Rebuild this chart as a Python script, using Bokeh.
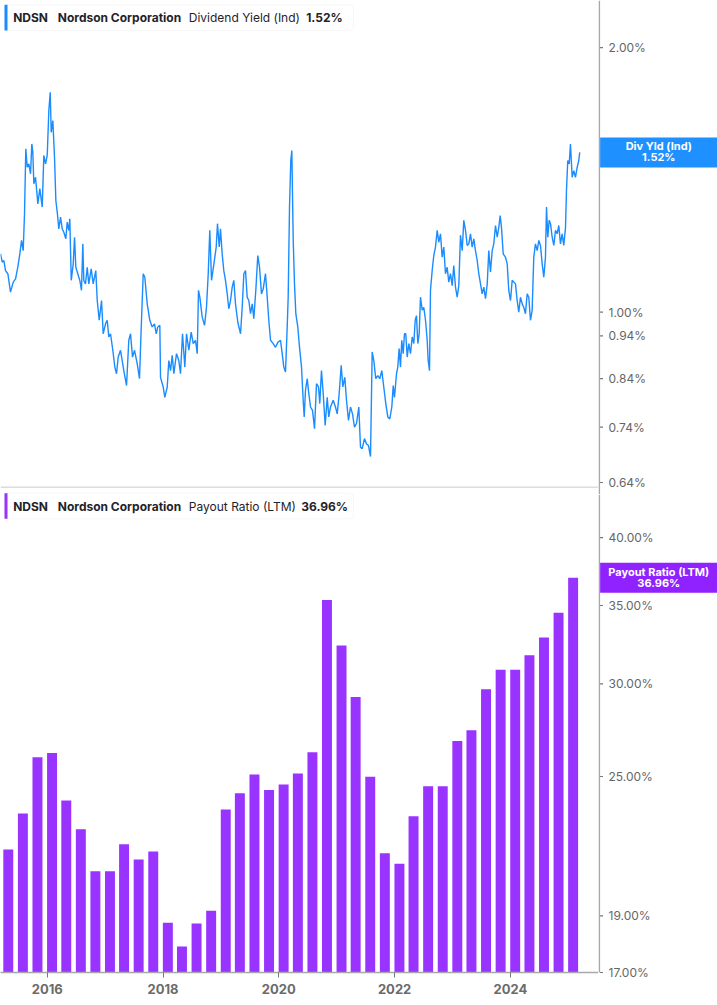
import math
from datetime import date
from bokeh.plotting import figure
from bokeh.layouts import column, row
from bokeh.models import Range1d, FixedTicker, PrintfTickFormatter, Label, BoxAnnotation, LogScale
from bokeh.core.properties import value
from bokeh.embed import file_html
from bokeh.resources import INLINE

# ---------------- data ----------------
ticker = "NDSN"
company = "Nordson Corporation"
yield_name = "Dividend Yield (Ind)"
yield_short = "Div Yld (Ind)"
payout_name = "Payout Ratio (LTM)"

# dividend yield (%), time as decimal year
yield_t = [2015.193, 2015.223, 2015.251, 2015.280, 2015.320, 2015.366, 2015.413, 2015.453, 2015.492, 2015.527,
           2015.556, 2015.585, 2015.608, 2015.630, 2015.655, 2015.682, 2015.712, 2015.734, 2015.751, 2015.769,
           2015.798, 2015.838, 2015.872, 2015.914, 2015.941, 2015.971, 2016.000, 2016.028, 2016.052, 2016.069,
           2016.097, 2016.126, 2016.149, 2016.173, 2016.200, 2016.230, 2016.259, 2016.287, 2016.321, 2016.345,
           2016.373, 2016.390, 2016.415, 2016.449, 2016.472, 2016.494, 2016.528, 2016.563, 2016.592, 2016.615,
           2016.632, 2016.661, 2016.691, 2016.718, 2016.760, 2016.794, 2016.839, 2016.864, 2016.898, 2016.938,
           2016.967, 2017.007, 2017.036, 2017.064, 2017.093, 2017.133, 2017.168, 2017.197, 2017.226, 2017.266,
           2017.295, 2017.323, 2017.370, 2017.409, 2017.439, 2017.473, 2017.508, 2017.554, 2017.594, 2017.624,
           2017.658, 2017.686, 2017.727, 2017.772, 2017.813, 2017.853, 2017.883, 2017.910, 2017.945, 2017.957,
           2018.003, 2018.031, 2018.073, 2018.100, 2018.130, 2018.159, 2018.187, 2018.233, 2018.273, 2018.302,
           2018.337, 2018.377, 2018.406, 2018.446, 2018.487, 2018.522, 2018.561, 2018.591, 2018.613, 2018.636,
           2018.677, 2018.717, 2018.751, 2018.781, 2018.808, 2018.838, 2018.867, 2018.895, 2018.919, 2018.941,
           2018.971, 2018.993, 2019.022, 2019.050, 2019.079, 2019.109, 2019.136, 2019.166, 2019.195, 2019.223,
           2019.252, 2019.292, 2019.339, 2019.368, 2019.396, 2019.425, 2019.454, 2019.482, 2019.511, 2019.541,
           2019.568, 2019.603, 2019.637, 2019.667, 2019.701, 2019.731, 2019.770, 2019.800, 2019.827, 2019.857,
           2019.903, 2019.943, 2019.983, 2020.029, 2020.059, 2020.086, 2020.116, 2020.145, 2020.162, 2020.185,
           2020.207, 2020.225, 2020.249, 2020.271, 2020.294, 2020.328, 2020.358, 2020.392, 2020.421, 2020.439,
           2020.461, 2020.491, 2020.518, 2020.548, 2020.582, 2020.617, 2020.651, 2020.686, 2020.708, 2020.737,
           2020.767, 2020.801, 2020.836, 2020.863, 2020.893, 2020.940, 2020.979, 2021.009, 2021.043, 2021.078,
           2021.105, 2021.140, 2021.169, 2021.204, 2021.238, 2021.273, 2021.307, 2021.342, 2021.382, 2021.411,
           2021.440, 2021.480, 2021.515, 2021.549, 2021.584, 2021.613, 2021.641, 2021.675, 2021.710, 2021.744,
           2021.779, 2021.813, 2021.848, 2021.883, 2021.917, 2021.952, 2021.976, 2021.998, 2022.033, 2022.055,
           2022.079, 2022.102, 2022.124, 2022.148, 2022.171, 2022.193, 2022.218, 2022.245, 2022.275, 2022.304,
           2022.332, 2022.356, 2022.378, 2022.401, 2022.425, 2022.447, 2022.477, 2022.504, 2022.534, 2022.563,
           2022.580, 2022.603, 2022.620, 2022.649, 2022.677, 2022.706, 2022.736, 2022.763, 2022.793, 2022.822,
           2022.850, 2022.879, 2022.908, 2022.936, 2022.965, 2022.995, 2023.022, 2023.052, 2023.081, 2023.109,
           2023.138, 2023.168, 2023.195, 2023.225, 2023.254, 2023.282, 2023.311, 2023.340, 2023.368, 2023.397,
           2023.427, 2023.454, 2023.484, 2023.513, 2023.541, 2023.570, 2023.600, 2023.627, 2023.656, 2023.686,
           2023.713, 2023.743, 2023.772, 2023.800, 2023.824, 2023.846, 2023.876, 2023.915, 2023.945, 2023.972,
           2024.002, 2024.031, 2024.059, 2024.088, 2024.117, 2024.145, 2024.174, 2024.204, 2024.231, 2024.260,
           2024.290, 2024.318, 2024.347, 2024.376, 2024.404, 2024.433, 2024.463, 2024.491, 2024.520, 2024.549,
           2024.577, 2024.606, 2024.624, 2024.646, 2024.670, 2024.693, 2024.722, 2024.750, 2024.779, 2024.808,
           2024.836, 2024.865, 2024.894, 2024.922, 2024.952, 2024.969, 2024.991, 2025.016, 2025.038, 2025.067,
           2025.095, 2025.124, 2025.154, 2025.181, 2025.198]

yield_v = [1.165, 1.140, 1.145, 1.115, 1.106, 1.054, 1.082, 1.091, 1.125, 1.165,
           1.207, 1.175, 1.294, 1.534, 1.462, 1.475, 1.437, 1.554, 1.521, 1.400,
           1.424, 1.328, 1.382, 1.317, 1.508, 1.475, 1.508, 1.696, 1.779, 1.602,
           1.652, 1.501, 1.340, 1.300, 1.244, 1.283, 1.244, 1.233, 1.212, 1.266,
           1.239, 1.277, 1.087, 1.135, 1.217, 1.125, 1.106, 1.087, 1.059, 1.196,
           1.087, 1.077, 1.125, 1.077, 1.120, 1.077, 1.115, 1.031, 0.979, 1.031,
           0.945, 0.970, 0.979, 0.937, 0.945, 0.905, 0.866, 0.851, 0.889, 0.905,
           0.881, 0.858, 0.825, 0.929, 0.945, 0.889, 0.905, 0.874, 0.840, 0.962,
           1.106, 1.096, 1.022, 0.979, 0.962, 0.970, 0.945, 0.962, 0.966, 0.843,
           0.822, 0.800, 0.822, 0.881, 0.858, 0.893, 0.851, 0.897, 0.881, 0.851,
           0.945, 0.866, 0.945, 0.905, 0.949, 0.921, 0.929, 0.897, 1.059, 1.040,
           0.987, 0.966, 1.013, 1.106, 1.239, 1.087, 1.120, 1.155, 1.186, 1.261,
           1.186, 1.244, 1.165, 1.115, 1.087, 1.049, 1.009, 1.031, 1.068, 1.087,
           1.022, 0.974, 0.945, 1.013, 1.106, 1.115, 1.040, 1.031, 0.996, 1.022,
           0.983, 1.059, 1.160, 1.125, 1.049, 1.063, 1.106, 1.040, 0.979, 0.929,
           0.921, 0.912, 0.924, 0.929, 0.897, 0.866, 0.855, 0.962, 1.040, 1.317,
           1.488, 1.527, 1.207, 1.077, 0.996, 0.962, 0.912, 0.866, 0.794, 0.760,
           0.815, 0.840, 0.808, 0.780, 0.773, 0.737, 0.829, 0.822, 0.787, 0.858,
           0.808, 0.743, 0.800, 0.760, 0.780, 0.794, 0.780, 0.766, 0.808, 0.870,
           0.822, 0.843, 0.794, 0.753, 0.780, 0.766, 0.740, 0.747, 0.780, 0.702,
           0.699, 0.718, 0.708, 0.705, 0.685, 0.901, 0.881, 0.840, 0.847, 0.840,
           0.858, 0.822, 0.787, 0.760, 0.756, 0.780, 0.825, 0.800, 0.851, 0.866,
           0.909, 0.866, 0.929, 0.897, 0.945, 0.945, 0.889, 0.921, 0.897, 0.937,
           0.921, 0.979, 0.991, 0.921, 0.945, 1.040, 1.005, 1.013, 0.979, 0.929,
           0.881, 0.858, 1.059, 1.115, 1.160, 1.186, 1.239, 1.201, 1.228, 1.155,
           1.186, 1.106, 1.125, 1.082, 1.106, 1.072, 1.130, 1.068, 1.040, 1.072,
           1.223, 1.175, 1.272, 1.239, 1.191, 1.196, 1.228, 1.186, 1.212, 1.175,
           1.145, 1.106, 1.077, 1.049, 1.068, 1.036, 1.077, 1.175, 1.111, 1.175,
           1.196, 1.255, 1.217, 1.249, 1.288, 1.249, 1.165, 1.155, 1.135, 1.059,
           1.031, 1.087, 1.082, 1.077, 1.031, 1.000, 1.040, 1.022, 1.013, 0.996,
           1.049, 1.040, 0.979, 1.005, 1.155, 1.196, 1.175, 1.207, 1.191, 1.135,
           1.096, 1.155, 1.317, 1.217, 1.272, 1.261, 1.217, 1.191, 1.239, 1.228,
           1.255, 1.196, 1.228, 1.191, 1.249, 1.376, 1.488, 1.475, 1.554, 1.424,
           1.449, 1.424, 1.462, 1.488, 1.520]

# payout ratio (LTM, %) at fiscal quarter ends
payout_dates = ["2015-04-30", "2015-07-31", "2015-10-31",
                "2016-01-31", "2016-04-30", "2016-07-31", "2016-10-31",
                "2017-01-31", "2017-04-30", "2017-07-31", "2017-10-31",
                "2018-01-31", "2018-04-30", "2018-07-31", "2018-10-31",
                "2019-01-31", "2019-04-30", "2019-07-31", "2019-10-31",
                "2020-01-31", "2020-04-30", "2020-07-31", "2020-10-31",
                "2021-01-31", "2021-04-30", "2021-07-31", "2021-10-31",
                "2022-01-31", "2022-04-30", "2022-07-31", "2022-10-31",
                "2023-01-31", "2023-04-30", "2023-07-31", "2023-10-31",
                "2024-01-31", "2024-04-30", "2024-07-31", "2024-10-31",
                "2025-01-31"]
payout_v = [21.65, 23.24, 25.96, 26.18, 23.85, 22.54, 20.75, 20.75, 21.88, 21.23,
            21.57, 18.75, 17.89, 18.72, 19.20, 23.43, 24.19, 25.10, 24.35, 24.61,
            25.15, 26.22, 35.38, 32.35, 29.24, 24.99, 21.50, 21.06, 23.12, 24.52,
            24.52, 26.81, 27.38, 29.68, 30.84, 30.84, 31.74, 32.86, 34.50, 36.96]

year_ticks = [2016, 2018, 2020, 2022, 2024]
yield_ticks = [0.64, 0.74, 0.84, 0.94, 1.00, 2.00]
payout_ticks = [17, 19, 25, 30, 35, 40]

last_yield = 1.52
last_payout = 36.96

# ---------------- layout constants ----------------
RIGHT = 119          # width of the right value column
FW = 598             # frame width of the main panels
H1 = 488             # top panel height
H2 = 517             # bottom panel height (incl. x axis)
XAX = 33
FH1 = H1
FH2 = H2 - XAX
EXT = 6              # side column: top part reaches a little below the separator
X0, X1 = 2015.193, 2025.522
Y1MIN, Y1MAX = 0.630, 2.263
Y2MIN, Y2MAX = 17.0, 44.06

FONT = "Inter"
BLUE = "#1a8cff"
BLUE_BOX = "#1e90ff"
PURPLE = "#9933ff"
PURPLE_BOX = "#8f22ff"
AXIS = "#a8a8a8"
TXT = "#1f2329"


def dec_year(s):
    d = date.fromisoformat(s)
    a = date(d.year, 1, 1)
    b = date(d.year + 1, 1, 1)
    return d.year + ((d - a).days + 0.5) / (b - a).days


def xpx(px):
    return X0 + px * (X1 - X0) / FW


def y1px(px):
    return Y1MAX * (Y1MIN / Y1MAX) ** (px / FH1)


def y2px(px):
    return Y2MAX * (Y2MIN / Y2MAX) ** (px / FH2)


def base_fig(width, height, x_range, y_range, x_axis=None):
    f = figure(width=width, height=height, x_range=x_range, y_range=y_range,
               y_axis_type="log", x_axis_location=x_axis, y_axis_location=None,
               toolbar_location=None, output_backend="svg", min_border=0)
    f.y_scale = LogScale()
    f.outline_line_color = None
    f.grid.visible = False
    f.background_fill_color = "white"
    f.border_fill_color = "white"
    return f


def legend(p, yfun, top_px, bot_px, mid_px, color, items):
    p.add_layout(BoxAnnotation(left=xpx(4), right=xpx(353), top=yfun(top_px), bottom=yfun(bot_px),
                               fill_color="white", fill_alpha=1.0, line_color="#e4e4e4",
                               line_width=1, border_radius=4))
    p.add_layout(BoxAnnotation(left=xpx(4), right=xpx(7), top=yfun(top_px), bottom=yfun(bot_px),
                               fill_color=color, fill_alpha=1.0, line_color=None))
    for xp, txt, style in items:
        p.add_layout(Label(x=xpx(xp), y=yfun(mid_px), text=txt, text_baseline="middle",
                           text_align="left", text_font=FONT, text_font_size="12px",
                           text_font_style=style, text_color=TXT))


def side_axis(s, ticks, axis_bottom, last, color, line1, line2):
    # axis line
    s.add_layout(BoxAnnotation(left=0, right=1.6, bottom=axis_bottom, fill_color=AXIS,
                               fill_alpha=1.0, line_color=None))
    # tick marks and labels
    s.segment(x0=[1.5] * len(ticks), x1=[4.5] * len(ticks), y0=ticks, y1=ticks,
              line_color="#777777", line_width=1.2)
    s.text(x=[10] * len(ticks), y=ticks, text=["%.2f%%" % t for t in ticks],
           text_align="left", text_baseline="middle", text_font=value(FONT),
           text_font_size=value("12px"), text_color="#666666")
    # current value box
    s.rect(x=[RIGHT / 2 + 0.8], y=[last], width=[RIGHT - 1.6], height=[30], height_units="screen",
           fill_color=color, line_color=None)
    s.text(x=[RIGHT / 2 + 0.8] * 2, y=[last, last], text=[line1, line2], y_offset=[-6, 5],
           text_align="center", text_baseline="middle", text_font=value(FONT),
           text_font_size=value("11px"), text_font_style="bold", text_color="white")


# ---------------- top: dividend yield ----------------
p1 = base_fig(FW, H1, Range1d(X0, X1), Range1d(Y1MIN, Y1MAX))
p1.line(x=yield_t, y=yield_v, line_color=BLUE, line_width=1.4)
p1.add_layout(BoxAnnotation(left=X0, right=X1, top=y1px(FH1 - 2), bottom=Y1MIN,
                            fill_color="#dcdcdc", fill_alpha=1.0, line_color=None))
legend(p1, y1px, 4.3, 30, 17, BLUE,
       [(12.7, ticker, "bold"), (57.3, company, "bold"), (188.3, yield_name, "normal"),
        (305.7, "%.2f%%" % last_yield, "bold")])

s1 = base_fig(RIGHT, H1 + EXT, Range1d(0, RIGHT), Range1d(y1px(H1 + EXT), Y1MAX))
side_axis(s1, yield_ticks, y1px(H1 + EXT), last_yield, BLUE_BOX, yield_short, "%.2f%%" % last_yield)

# ---------------- bottom: payout ratio ----------------
p2 = base_fig(FW, H2, Range1d(X0, X1), Range1d(Y2MIN, Y2MAX), x_axis="below")
p2.min_border_bottom = XAX
xa = p2.xaxis[0]
xa.ticker = FixedTicker(ticks=year_ticks, minor_ticks=[])
xa.formatter = PrintfTickFormatter(format="%d")
xa.axis_line_color = AXIS
xa.axis_line_width = 1.5
xa.major_tick_in = 0
xa.major_tick_out = 5
xa.major_tick_line_color = "#777777"
xa.minor_tick_line_color = None
xa.major_label_standoff = 6
xa.major_label_text_font = FONT
xa.major_label_text_font_size = "13px"
xa.major_label_text_font_style = "bold"
xa.major_label_text_color = "#6b6b6b"

bar_x = [dec_year(s) for s in payout_dates]
p2.vbar(x=bar_x, top=payout_v, bottom=Y2MIN, width=0.172, fill_color=PURPLE, line_color=None)
legend(p2, y2px, 4.7, 30.3, 17.5, PURPLE,
       [(12.7, ticker, "bold"), (57.3, company, "bold"), (188.3, payout_name, "normal"),
        (300.7, "%.2f%%" % last_payout, "bold")])

s2 = base_fig(RIGHT, H2 - EXT, Range1d(0, RIGHT), Range1d(y2px(H2), y2px(EXT)))
side_axis(s2, payout_ticks, Y2MIN, last_payout, PURPLE_BOX, payout_name, "%.2f%%" % last_payout)

layout = row(column(p1, p2, spacing=0), column(s1, s2, spacing=0), spacing=0)
open("out.html", "w").write(file_html(layout, INLINE))
